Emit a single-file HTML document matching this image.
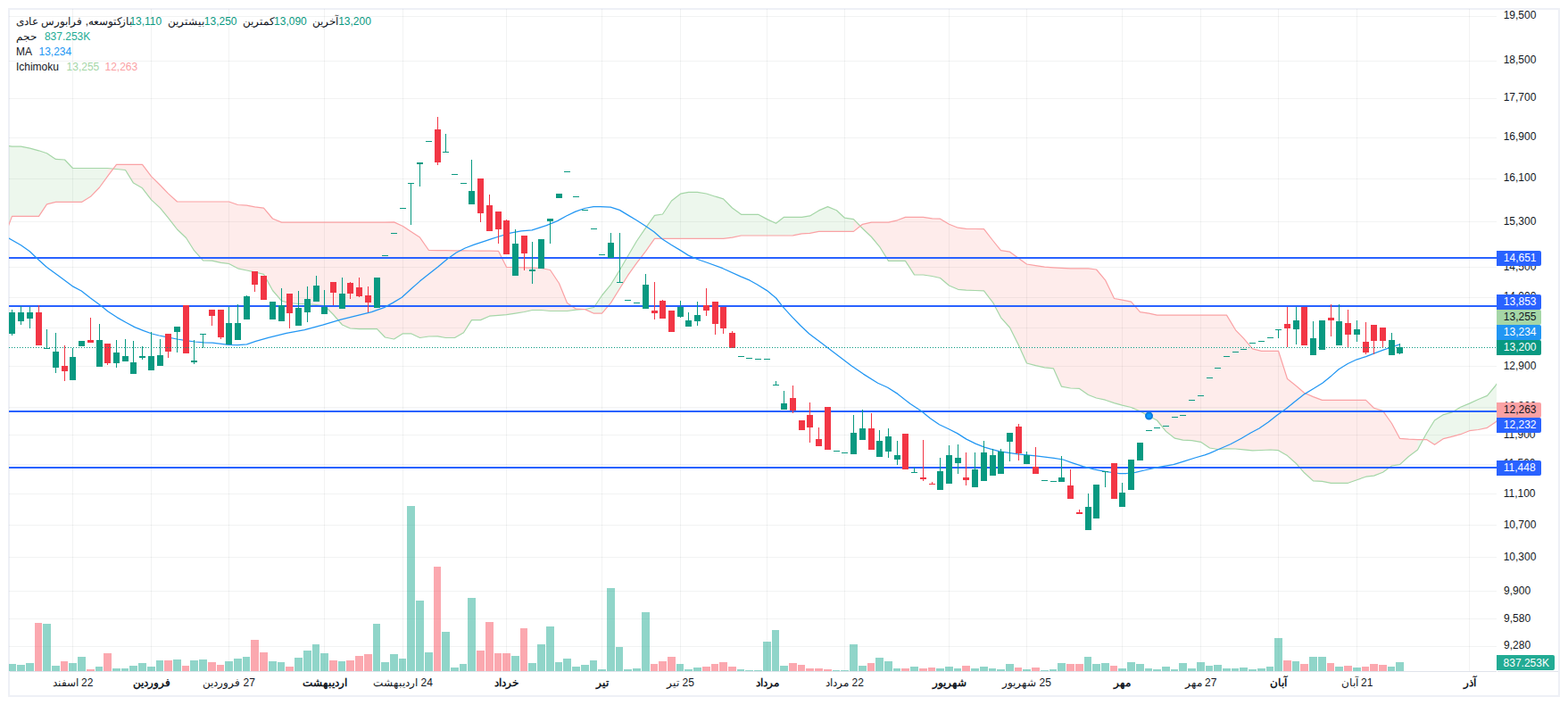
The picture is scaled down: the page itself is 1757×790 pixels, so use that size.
<!DOCTYPE html>
<html lang="fa"><head><meta charset="utf-8"><title>Chart</title>
<style>html,body{margin:0;padding:0;background:#fff;overflow:hidden}svg{display:block}text{font-family:"Liberation Sans",sans-serif;font-size:12px}</style>
</head><body>
<svg width="1757" height="790" viewBox="0 0 1757 790" role="img" aria-label="Candlestick chart with Ichimoku cloud, moving average and volume">
<defs><clipPath id="pane"><rect x="10" y="10" width="1667" height="742"/></clipPath></defs>
<rect x="0" y="0" width="1757" height="790" fill="#fff"/>
<g fill="#EEF0F6" shape-rendering="crispEdges"><rect x="9" y="9" width="1739" height="2"/><rect x="9" y="779" width="1739" height="2"/><rect x="9" y="9" width="2" height="772"/><rect x="1746" y="9" width="2" height="772"/></g>
<g fill="rgba(42,46,57,0.06)" shape-rendering="crispEdges">
<rect x="10" y="18" width="1667" height="1"/>
<rect x="10" y="68" width="1667" height="1"/>
<rect x="10" y="110" width="1667" height="1"/>
<rect x="10" y="154" width="1667" height="1"/>
<rect x="10" y="200" width="1667" height="1"/>
<rect x="10" y="248" width="1667" height="1"/>
<rect x="10" y="299" width="1667" height="1"/>
<rect x="10" y="333" width="1667" height="1"/>
<rect x="10" y="367" width="1667" height="1"/>
<rect x="10" y="410" width="1667" height="1"/>
<rect x="10" y="456" width="1667" height="1"/>
<rect x="10" y="487" width="1667" height="1"/>
<rect x="10" y="520" width="1667" height="1"/>
<rect x="10" y="553" width="1667" height="1"/>
<rect x="10" y="588" width="1667" height="1"/>
<rect x="10" y="624" width="1667" height="1"/>
<rect x="10" y="662" width="1667" height="1"/>
<rect x="10" y="693" width="1667" height="1"/>
<rect x="10" y="724" width="1667" height="1"/>
<rect x="81" y="10" width="1" height="742"/>
<rect x="169" y="10" width="1" height="742"/>
<rect x="256" y="10" width="1" height="742"/>
<rect x="363" y="10" width="1" height="742"/>
<rect x="451" y="10" width="1" height="742"/>
<rect x="567" y="10" width="1" height="742"/>
<rect x="674" y="10" width="1" height="742"/>
<rect x="762" y="10" width="1" height="742"/>
<rect x="859" y="10" width="1" height="742"/>
<rect x="946" y="10" width="1" height="742"/>
<rect x="1063" y="10" width="1" height="742"/>
<rect x="1150" y="10" width="1" height="742"/>
<rect x="1257" y="10" width="1" height="742"/>
<rect x="1345" y="10" width="1" height="742"/>
<rect x="1432" y="10" width="1" height="742"/>
<rect x="1520" y="10" width="1" height="742"/>
<rect x="1646" y="10" width="1" height="742"/>
</g>
<g fill="#E0E3EB" shape-rendering="crispEdges"><rect x="11" y="752" width="1666" height="1"/><rect x="1678" y="752" width="68" height="1"/></g>
<g clip-path="url(#pane)">
<path d="M4.5 162.5L13.5 164.2L23.5 164.2L33.5 166.2L43.5 168.8L52.5 171.7L62.5 178.4L72.5 179L81.5 188.5L91.5 188.5L101.5 188.5L111.5 188.5L120.5 188.5L120.5 197.6L111.5 210L101.5 220.3L91.5 226.4L81.5 226.4L72.5 226.4L62.5 226.4L52.5 228.8L43.5 242.4L33.5 242.4L23.5 242.4L13.5 242.4L4.5 266ZM645.5 347.1L655.5 346.5L665.5 344.5L674.5 331L684.5 318.8L694.5 302.5L703.5 287L713.5 270L723.5 255.3L733.5 241.3L742.5 240L752.5 225L762.5 217.2L771.5 215.4L781.5 215.4L791.5 217L801.5 220.2L810.5 222.8L820.5 233L830.5 240.3L839.5 240.3L849.5 240.3L859.5 245.6L869.5 250.3L878.5 243.3L888.5 243.3L898.5 243.3L907.5 241.9L917.5 235.9L927.5 231.6L937.5 235.7L946.5 244.2L956.5 245.6L956.5 259.4L946.5 259.4L937.5 259.4L927.5 259.4L917.5 259.4L907.5 261.3L898.5 261.8L888.5 263.8L878.5 264L869.5 264L859.5 264L849.5 264L839.5 264L830.5 264L820.5 266.2L810.5 267.4L801.5 267.4L791.5 267.4L781.5 267.4L771.5 267.4L762.5 267.4L752.5 267.4L742.5 267.4L733.5 267.4L723.5 281.6L713.5 294.7L703.5 308.7L694.5 323.2L684.5 339.4L674.5 351.2L665.5 351.2L655.5 346.6L645.5 346.2ZM1588.5 504L1598.5 485.5L1607.5 471L1617.5 464.6L1627.5 461.8L1636.5 456.3L1646.5 452.1L1656.5 447.5L1666.5 443.4L1675.5 432.5L1685.5 418L1685.5 464L1675.5 473.2L1666.5 479.3L1656.5 481.5L1646.5 482.7L1636.5 486.7L1627.5 489.1L1617.5 491.6L1607.5 498.3L1598.5 492.6L1588.5 492.6Z" fill="rgba(76,175,80,0.1)"/>
<path d="M120.5 188.5L130.5 189.5L140.5 190.5L149.5 205.1L159.5 210.8L169.5 223.9L179.5 233.1L188.5 244.2L198.5 257L208.5 266.5L217.5 280.7L227.5 291.8L237.5 292.2L247.5 294.4L256.5 295.5L266.5 300.8L276.5 303L285.5 304.8L295.5 307.3L305.5 325.5L315.5 337.2L324.5 339.5L334.5 340.5L344.5 340.7L354.5 341.5L363.5 342.5L373.5 352.5L383.5 364L392.5 368L402.5 368.6L412.5 368.6L422.5 368.7L431.5 378L441.5 380L451.5 373.8L460.5 373.8L470.5 378.5L480.5 377L490.5 376.9L499.5 378.5L509.5 378.5L519.5 372.8L528.5 358.6L538.5 358.6L548.5 354.2L558.5 353.4L567.5 352.6L577.5 351.1L587.5 349.5L596.5 347.5L606.5 347.5L616.5 348.5L626.5 348.5L635.5 348.5L645.5 347.1L645.5 346.2L635.5 339.5L626.5 317.5L616.5 302.5L606.5 300.5L596.5 300.1L587.5 299.8L577.5 299.5L567.5 299.3L558.5 281.3L548.5 281.2L538.5 281.1L528.5 281L519.5 280.9L509.5 280.8L499.5 280.7L490.5 280.6L480.5 280.5L470.5 266.1L460.5 259.4L451.5 253.5L441.5 248.9L431.5 249.1L422.5 249.1L412.5 249.1L402.5 249.1L392.5 249.1L383.5 249.1L373.5 249.1L363.5 249.1L354.5 249.1L344.5 249.1L334.5 249.1L324.5 249.1L315.5 249.1L305.5 245L295.5 233.2L285.5 231.8L276.5 230.2L266.5 229.5L256.5 226L247.5 226L237.5 226L227.5 226L217.5 226L208.5 226L198.5 226L188.5 216.9L179.5 207.5L169.5 197.6L159.5 184.4L149.5 184.4L140.5 184.4L130.5 184.4L120.5 197.6ZM956.5 245.6L966.5 256L976.5 265.5L985.5 276.3L995.5 292.4L1005.5 292.4L1014.5 292.4L1024.5 307.8L1034.5 308L1044.5 309.5L1053.5 311.5L1063.5 320L1073.5 324.3L1082.5 325.2L1092.5 325.5L1102.5 325.8L1112.5 338.8L1121.5 355.8L1131.5 367L1141.5 387L1150.5 407L1160.5 409.6L1170.5 411.9L1180.5 412.9L1189.5 433.2L1199.5 435L1209.5 435.4L1219.5 442.5L1228.5 446L1238.5 448.2L1248.5 451.6L1257.5 454.2L1267.5 456.5L1277.5 460.9L1287.5 466.2L1296.5 471L1306.5 483.4L1316.5 491.2L1325.5 493.2L1335.5 493.7L1345.5 495.3L1355.5 502L1364.5 503.5L1374.5 502.8L1384.5 503L1393.5 503.8L1403.5 504.8L1413.5 504.5L1423.5 504L1432.5 504.7L1442.5 510.6L1452.5 519.5L1461.5 529.8L1471.5 538.9L1481.5 539.3L1491.5 541.4L1500.5 541.4L1510.5 541.3L1520.5 537.7L1530.5 534.2L1539.5 533.1L1549.5 529.3L1559.5 522L1568.5 520.6L1578.5 511.5L1588.5 504L1588.5 492.6L1578.5 492.2L1568.5 491.3L1559.5 474.5L1549.5 460.4L1539.5 457.2L1530.5 448.4L1520.5 448.4L1510.5 448.4L1500.5 448.4L1491.5 448.4L1481.5 448.4L1471.5 444.6L1461.5 440.2L1452.5 432.5L1442.5 424.5L1432.5 393.3L1423.5 393.3L1413.5 393.3L1403.5 390.8L1393.5 379.2L1384.5 369.8L1374.5 353.1L1364.5 353.1L1355.5 353.1L1345.5 353.1L1335.5 353.1L1325.5 353.1L1316.5 353.1L1306.5 353.1L1296.5 353.1L1287.5 351.2L1277.5 349.7L1267.5 338.2L1257.5 336.2L1248.5 334.5L1238.5 313.8L1228.5 302L1219.5 300.9L1209.5 300.8L1199.5 300.8L1189.5 300.3L1180.5 299.8L1170.5 299.1L1160.5 297.6L1150.5 296L1141.5 289.6L1131.5 282.2L1121.5 280.7L1112.5 269.5L1102.5 256.7L1092.5 256.5L1082.5 256.3L1073.5 255.2L1063.5 251.2L1053.5 245.2L1044.5 244.8L1034.5 243.4L1024.5 243.4L1014.5 243.4L1005.5 246.8L995.5 249.2L985.5 249.2L976.5 249.2L966.5 251.3L956.5 259.4Z" fill="rgba(244,67,54,0.1)"/>
<polyline fill="none" stroke="#A5D6A7" stroke-width="1.2" stroke-linejoin="round" points="4.5,162.5 13.5,164.2 23.5,164.2 33.5,166.2 43.5,168.8 52.5,171.7 62.5,178.4 72.5,179 81.5,188.5 91.5,188.5 101.5,188.5 111.5,188.5 120.5,188.5 130.5,189.5 140.5,190.5 149.5,205.1 159.5,210.8 169.5,223.9 179.5,233.1 188.5,244.2 198.5,257 208.5,266.5 217.5,280.7 227.5,291.8 237.5,292.2 247.5,294.4 256.5,295.5 266.5,300.8 276.5,303 285.5,304.8 295.5,307.3 305.5,325.5 315.5,337.2 324.5,339.5 334.5,340.5 344.5,340.7 354.5,341.5 363.5,342.5 373.5,352.5 383.5,364 392.5,368 402.5,368.6 412.5,368.6 422.5,368.7 431.5,378 441.5,380 451.5,373.8 460.5,373.8 470.5,378.5 480.5,377 490.5,376.9 499.5,378.5 509.5,378.5 519.5,372.8 528.5,358.6 538.5,358.6 548.5,354.2 558.5,353.4 567.5,352.6 577.5,351.1 587.5,349.5 596.5,347.5 606.5,347.5 616.5,348.5 626.5,348.5 635.5,348.5 645.5,347.1 655.5,346.5 665.5,344.5 674.5,331 684.5,318.8 694.5,302.5 703.5,287 713.5,270 723.5,255.3 733.5,241.3 742.5,240 752.5,225 762.5,217.2 771.5,215.4 781.5,215.4 791.5,217 801.5,220.2 810.5,222.8 820.5,233 830.5,240.3 839.5,240.3 849.5,240.3 859.5,245.6 869.5,250.3 878.5,243.3 888.5,243.3 898.5,243.3 907.5,241.9 917.5,235.9 927.5,231.6 937.5,235.7 946.5,244.2 956.5,245.6 966.5,256 976.5,265.5 985.5,276.3 995.5,292.4 1005.5,292.4 1014.5,292.4 1024.5,307.8 1034.5,308 1044.5,309.5 1053.5,311.5 1063.5,320 1073.5,324.3 1082.5,325.2 1092.5,325.5 1102.5,325.8 1112.5,338.8 1121.5,355.8 1131.5,367 1141.5,387 1150.5,407 1160.5,409.6 1170.5,411.9 1180.5,412.9 1189.5,433.2 1199.5,435 1209.5,435.4 1219.5,442.5 1228.5,446 1238.5,448.2 1248.5,451.6 1257.5,454.2 1267.5,456.5 1277.5,460.9 1287.5,466.2 1296.5,471 1306.5,483.4 1316.5,491.2 1325.5,493.2 1335.5,493.7 1345.5,495.3 1355.5,502 1364.5,503.5 1374.5,502.8 1384.5,503 1393.5,503.8 1403.5,504.8 1413.5,504.5 1423.5,504 1432.5,504.7 1442.5,510.6 1452.5,519.5 1461.5,529.8 1471.5,538.9 1481.5,539.3 1491.5,541.4 1500.5,541.4 1510.5,541.3 1520.5,537.7 1530.5,534.2 1539.5,533.1 1549.5,529.3 1559.5,522 1568.5,520.6 1578.5,511.5 1588.5,504 1598.5,485.5 1607.5,471 1617.5,464.6 1627.5,461.8 1636.5,456.3 1646.5,452.1 1656.5,447.5 1666.5,443.4 1675.5,432.5 1685.5,418"/>
<polyline fill="none" stroke="#FAA1A4" stroke-width="1.2" stroke-linejoin="round" points="4.5,266 13.5,242.4 23.5,242.4 33.5,242.4 43.5,242.4 52.5,228.8 62.5,226.4 72.5,226.4 81.5,226.4 91.5,226.4 101.5,220.3 111.5,210 120.5,197.6 130.5,184.4 140.5,184.4 149.5,184.4 159.5,184.4 169.5,197.6 179.5,207.5 188.5,216.9 198.5,226 208.5,226 217.5,226 227.5,226 237.5,226 247.5,226 256.5,226 266.5,229.5 276.5,230.2 285.5,231.8 295.5,233.2 305.5,245 315.5,249.1 324.5,249.1 334.5,249.1 344.5,249.1 354.5,249.1 363.5,249.1 373.5,249.1 383.5,249.1 392.5,249.1 402.5,249.1 412.5,249.1 422.5,249.1 431.5,249.1 441.5,248.9 451.5,253.5 460.5,259.4 470.5,266.1 480.5,280.5 490.5,280.6 499.5,280.7 509.5,280.8 519.5,280.9 528.5,281 538.5,281.1 548.5,281.2 558.5,281.3 567.5,299.3 577.5,299.5 587.5,299.8 596.5,300.1 606.5,300.5 616.5,302.5 626.5,317.5 635.5,339.5 645.5,346.2 655.5,346.6 665.5,351.2 674.5,351.2 684.5,339.4 694.5,323.2 703.5,308.7 713.5,294.7 723.5,281.6 733.5,267.4 742.5,267.4 752.5,267.4 762.5,267.4 771.5,267.4 781.5,267.4 791.5,267.4 801.5,267.4 810.5,267.4 820.5,266.2 830.5,264 839.5,264 849.5,264 859.5,264 869.5,264 878.5,264 888.5,263.8 898.5,261.8 907.5,261.3 917.5,259.4 927.5,259.4 937.5,259.4 946.5,259.4 956.5,259.4 966.5,251.3 976.5,249.2 985.5,249.2 995.5,249.2 1005.5,246.8 1014.5,243.4 1024.5,243.4 1034.5,243.4 1044.5,244.8 1053.5,245.2 1063.5,251.2 1073.5,255.2 1082.5,256.3 1092.5,256.5 1102.5,256.7 1112.5,269.5 1121.5,280.7 1131.5,282.2 1141.5,289.6 1150.5,296 1160.5,297.6 1170.5,299.1 1180.5,299.8 1189.5,300.3 1199.5,300.8 1209.5,300.8 1219.5,300.9 1228.5,302 1238.5,313.8 1248.5,334.5 1257.5,336.2 1267.5,338.2 1277.5,349.7 1287.5,351.2 1296.5,353.1 1306.5,353.1 1316.5,353.1 1325.5,353.1 1335.5,353.1 1345.5,353.1 1355.5,353.1 1364.5,353.1 1374.5,353.1 1384.5,369.8 1393.5,379.2 1403.5,390.8 1413.5,393.3 1423.5,393.3 1432.5,393.3 1442.5,424.5 1452.5,432.5 1461.5,440.2 1471.5,444.6 1481.5,448.4 1491.5,448.4 1500.5,448.4 1510.5,448.4 1520.5,448.4 1530.5,448.4 1539.5,457.2 1549.5,460.4 1559.5,474.5 1568.5,491.3 1578.5,492.2 1588.5,492.6 1598.5,492.6 1607.5,498.3 1617.5,491.6 1627.5,489.1 1636.5,486.7 1646.5,482.7 1656.5,481.5 1666.5,479.3 1675.5,473.2 1685.5,464"/>
<g shape-rendering="crispEdges">
<rect x="9" y="744" width="9" height="8" fill="rgba(34,171,148,0.5)"/>
<rect x="19" y="745" width="9" height="7" fill="rgba(34,171,148,0.5)"/>
<rect x="29" y="743" width="9" height="9" fill="rgba(34,171,148,0.5)"/>
<rect x="39" y="698" width="8" height="54" fill="rgba(247,82,95,0.5)"/>
<rect x="48" y="699" width="9" height="53" fill="rgba(34,171,148,0.5)"/>
<rect x="58" y="746" width="9" height="6" fill="rgba(34,171,148,0.5)"/>
<rect x="68" y="741" width="8" height="11" fill="rgba(247,82,95,0.5)"/>
<rect x="77" y="743" width="9" height="9" fill="rgba(34,171,148,0.5)"/>
<rect x="87" y="736" width="9" height="16" fill="rgba(34,171,148,0.5)"/>
<rect x="97" y="750" width="9" height="2" fill="rgba(247,82,95,0.5)"/>
<rect x="107" y="747" width="8" height="5" fill="rgba(34,171,148,0.5)"/>
<rect x="116" y="732" width="9" height="20" fill="rgba(247,82,95,0.5)"/>
<rect x="126" y="749" width="9" height="3" fill="rgba(34,171,148,0.5)"/>
<rect x="136" y="749" width="8" height="3" fill="rgba(34,171,148,0.5)"/>
<rect x="145" y="746" width="9" height="6" fill="rgba(34,171,148,0.5)"/>
<rect x="155" y="743" width="9" height="9" fill="rgba(34,171,148,0.5)"/>
<rect x="165" y="747" width="9" height="5" fill="rgba(34,171,148,0.5)"/>
<rect x="175" y="740" width="8" height="12" fill="rgba(34,171,148,0.5)"/>
<rect x="184" y="740" width="9" height="12" fill="rgba(247,82,95,0.5)"/>
<rect x="194" y="739" width="9" height="13" fill="rgba(34,171,148,0.5)"/>
<rect x="204" y="746" width="8" height="6" fill="rgba(247,82,95,0.5)"/>
<rect x="213" y="740" width="9" height="12" fill="rgba(34,171,148,0.5)"/>
<rect x="223" y="739" width="9" height="13" fill="rgba(34,171,148,0.5)"/>
<rect x="233" y="742" width="9" height="10" fill="rgba(247,82,95,0.5)"/>
<rect x="243" y="745" width="8" height="7" fill="rgba(247,82,95,0.5)"/>
<rect x="252" y="741" width="9" height="11" fill="rgba(34,171,148,0.5)"/>
<rect x="262" y="738" width="9" height="14" fill="rgba(34,171,148,0.5)"/>
<rect x="272" y="736" width="8" height="16" fill="rgba(34,171,148,0.5)"/>
<rect x="281" y="717" width="9" height="35" fill="rgba(247,82,95,0.5)"/>
<rect x="291" y="731" width="9" height="21" fill="rgba(247,82,95,0.5)"/>
<rect x="301" y="741" width="9" height="11" fill="rgba(34,171,148,0.5)"/>
<rect x="311" y="742" width="8" height="10" fill="rgba(34,171,148,0.5)"/>
<rect x="320" y="747" width="9" height="5" fill="rgba(247,82,95,0.5)"/>
<rect x="330" y="737" width="9" height="15" fill="rgba(34,171,148,0.5)"/>
<rect x="340" y="729" width="9" height="23" fill="rgba(34,171,148,0.5)"/>
<rect x="350" y="722" width="8" height="30" fill="rgba(34,171,148,0.5)"/>
<rect x="359" y="732" width="9" height="20" fill="rgba(34,171,148,0.5)"/>
<rect x="369" y="740" width="9" height="12" fill="rgba(247,82,95,0.5)"/>
<rect x="379" y="741" width="8" height="11" fill="rgba(34,171,148,0.5)"/>
<rect x="388" y="740" width="9" height="12" fill="rgba(247,82,95,0.5)"/>
<rect x="398" y="735" width="9" height="17" fill="rgba(247,82,95,0.5)"/>
<rect x="408" y="733" width="9" height="19" fill="rgba(247,82,95,0.5)"/>
<rect x="418" y="699" width="8" height="53" fill="rgba(34,171,148,0.5)"/>
<rect x="427" y="742" width="9" height="10" fill="rgba(34,171,148,0.5)"/>
<rect x="437" y="733" width="9" height="19" fill="rgba(34,171,148,0.5)"/>
<rect x="447" y="738" width="8" height="14" fill="rgba(34,171,148,0.5)"/>
<rect x="456" y="567" width="9" height="185" fill="rgba(34,171,148,0.5)"/>
<rect x="466" y="673" width="9" height="79" fill="rgba(34,171,148,0.5)"/>
<rect x="476" y="731" width="9" height="21" fill="rgba(34,171,148,0.5)"/>
<rect x="486" y="635" width="8" height="117" fill="rgba(247,82,95,0.5)"/>
<rect x="495" y="708" width="9" height="44" fill="rgba(34,171,148,0.5)"/>
<rect x="505" y="748" width="9" height="4" fill="rgba(34,171,148,0.5)"/>
<rect x="515" y="744" width="8" height="8" fill="rgba(34,171,148,0.5)"/>
<rect x="524" y="670" width="9" height="82" fill="rgba(34,171,148,0.5)"/>
<rect x="534" y="729" width="9" height="23" fill="rgba(247,82,95,0.5)"/>
<rect x="544" y="697" width="9" height="55" fill="rgba(247,82,95,0.5)"/>
<rect x="554" y="732" width="8" height="20" fill="rgba(247,82,95,0.5)"/>
<rect x="563" y="732" width="9" height="20" fill="rgba(247,82,95,0.5)"/>
<rect x="573" y="735" width="9" height="17" fill="rgba(34,171,148,0.5)"/>
<rect x="583" y="704" width="8" height="48" fill="rgba(247,82,95,0.5)"/>
<rect x="592" y="743" width="9" height="9" fill="rgba(34,171,148,0.5)"/>
<rect x="602" y="722" width="9" height="30" fill="rgba(34,171,148,0.5)"/>
<rect x="612" y="702" width="9" height="50" fill="rgba(34,171,148,0.5)"/>
<rect x="622" y="742" width="8" height="10" fill="rgba(34,171,148,0.5)"/>
<rect x="631" y="738" width="9" height="14" fill="rgba(34,171,148,0.5)"/>
<rect x="641" y="747" width="9" height="5" fill="rgba(34,171,148,0.5)"/>
<rect x="651" y="745" width="9" height="7" fill="rgba(34,171,148,0.5)"/>
<rect x="661" y="740" width="8" height="12" fill="rgba(34,171,148,0.5)"/>
<rect x="670" y="750" width="9" height="2" fill="rgba(34,171,148,0.5)"/>
<rect x="680" y="659" width="9" height="93" fill="rgba(34,171,148,0.5)"/>
<rect x="690" y="725" width="8" height="27" fill="rgba(34,171,148,0.5)"/>
<rect x="699" y="750" width="9" height="2" fill="rgba(34,171,148,0.5)"/>
<rect x="709" y="749" width="9" height="3" fill="rgba(34,171,148,0.5)"/>
<rect x="719" y="686" width="9" height="66" fill="rgba(34,171,148,0.5)"/>
<rect x="729" y="744" width="8" height="8" fill="rgba(247,82,95,0.5)"/>
<rect x="738" y="741" width="9" height="11" fill="rgba(247,82,95,0.5)"/>
<rect x="748" y="736" width="9" height="16" fill="rgba(247,82,95,0.5)"/>
<rect x="758" y="744" width="8" height="8" fill="rgba(34,171,148,0.5)"/>
<rect x="767" y="750" width="9" height="2" fill="rgba(34,171,148,0.5)"/>
<rect x="777" y="748" width="9" height="4" fill="rgba(34,171,148,0.5)"/>
<rect x="787" y="747" width="9" height="5" fill="rgba(247,82,95,0.5)"/>
<rect x="797" y="744" width="8" height="8" fill="rgba(247,82,95,0.5)"/>
<rect x="806" y="742" width="9" height="10" fill="rgba(247,82,95,0.5)"/>
<rect x="816" y="747" width="9" height="5" fill="rgba(247,82,95,0.5)"/>
<rect x="826" y="750" width="8" height="2" fill="rgba(34,171,148,0.5)"/>
<rect x="835" y="751" width="9" height="1" fill="rgba(34,171,148,0.5)"/>
<rect x="845" y="751" width="9" height="1" fill="rgba(34,171,148,0.5)"/>
<rect x="855" y="719" width="9" height="33" fill="rgba(34,171,148,0.5)"/>
<rect x="865" y="706" width="8" height="46" fill="rgba(34,171,148,0.5)"/>
<rect x="874" y="746" width="9" height="6" fill="rgba(34,171,148,0.5)"/>
<rect x="884" y="743" width="9" height="9" fill="rgba(247,82,95,0.5)"/>
<rect x="894" y="745" width="8" height="7" fill="rgba(247,82,95,0.5)"/>
<rect x="903" y="749" width="9" height="3" fill="rgba(247,82,95,0.5)"/>
<rect x="913" y="749" width="9" height="3" fill="rgba(247,82,95,0.5)"/>
<rect x="923" y="750" width="9" height="2" fill="rgba(247,82,95,0.5)"/>
<rect x="933" y="751" width="8" height="1" fill="rgba(34,171,148,0.5)"/>
<rect x="942" y="751" width="9" height="1" fill="rgba(34,171,148,0.5)"/>
<rect x="952" y="722" width="9" height="30" fill="rgba(34,171,148,0.5)"/>
<rect x="962" y="746" width="9" height="6" fill="rgba(34,171,148,0.5)"/>
<rect x="972" y="743" width="8" height="9" fill="rgba(247,82,95,0.5)"/>
<rect x="981" y="737" width="9" height="15" fill="rgba(34,171,148,0.5)"/>
<rect x="991" y="741" width="9" height="11" fill="rgba(34,171,148,0.5)"/>
<rect x="1001" y="749" width="8" height="3" fill="rgba(34,171,148,0.5)"/>
<rect x="1010" y="749" width="9" height="3" fill="rgba(247,82,95,0.5)"/>
<rect x="1020" y="747" width="9" height="5" fill="rgba(34,171,148,0.5)"/>
<rect x="1030" y="749" width="9" height="3" fill="rgba(247,82,95,0.5)"/>
<rect x="1040" y="748" width="8" height="4" fill="rgba(247,82,95,0.5)"/>
<rect x="1049" y="749" width="9" height="3" fill="rgba(34,171,148,0.5)"/>
<rect x="1059" y="747" width="9" height="5" fill="rgba(34,171,148,0.5)"/>
<rect x="1069" y="749" width="8" height="3" fill="rgba(34,171,148,0.5)"/>
<rect x="1078" y="746" width="9" height="6" fill="rgba(247,82,95,0.5)"/>
<rect x="1088" y="749" width="9" height="3" fill="rgba(34,171,148,0.5)"/>
<rect x="1098" y="747" width="9" height="5" fill="rgba(34,171,148,0.5)"/>
<rect x="1108" y="749" width="8" height="3" fill="rgba(34,171,148,0.5)"/>
<rect x="1117" y="750" width="9" height="2" fill="rgba(34,171,148,0.5)"/>
<rect x="1127" y="744" width="9" height="8" fill="rgba(34,171,148,0.5)"/>
<rect x="1137" y="748" width="8" height="4" fill="rgba(247,82,95,0.5)"/>
<rect x="1146" y="750" width="9" height="2" fill="rgba(34,171,148,0.5)"/>
<rect x="1156" y="748" width="9" height="4" fill="rgba(247,82,95,0.5)"/>
<rect x="1166" y="751" width="9" height="1" fill="rgba(34,171,148,0.5)"/>
<rect x="1176" y="750" width="8" height="2" fill="rgba(34,171,148,0.5)"/>
<rect x="1185" y="743" width="9" height="9" fill="rgba(34,171,148,0.5)"/>
<rect x="1195" y="744" width="9" height="8" fill="rgba(247,82,95,0.5)"/>
<rect x="1205" y="744" width="9" height="8" fill="rgba(247,82,95,0.5)"/>
<rect x="1215" y="736" width="8" height="16" fill="rgba(34,171,148,0.5)"/>
<rect x="1224" y="744" width="9" height="8" fill="rgba(34,171,148,0.5)"/>
<rect x="1234" y="743" width="9" height="9" fill="rgba(34,171,148,0.5)"/>
<rect x="1244" y="746" width="8" height="6" fill="rgba(247,82,95,0.5)"/>
<rect x="1253" y="749" width="9" height="3" fill="rgba(34,171,148,0.5)"/>
<rect x="1263" y="742" width="9" height="10" fill="rgba(34,171,148,0.5)"/>
<rect x="1273" y="744" width="9" height="8" fill="rgba(34,171,148,0.5)"/>
<rect x="1283" y="749" width="8" height="3" fill="rgba(34,171,148,0.5)"/>
<rect x="1292" y="750" width="9" height="2" fill="rgba(34,171,148,0.5)"/>
<rect x="1302" y="747" width="9" height="5" fill="rgba(34,171,148,0.5)"/>
<rect x="1312" y="750" width="8" height="2" fill="rgba(34,171,148,0.5)"/>
<rect x="1321" y="743" width="9" height="9" fill="rgba(34,171,148,0.5)"/>
<rect x="1331" y="749" width="9" height="3" fill="rgba(34,171,148,0.5)"/>
<rect x="1341" y="742" width="9" height="10" fill="rgba(34,171,148,0.5)"/>
<rect x="1351" y="746" width="8" height="6" fill="rgba(34,171,148,0.5)"/>
<rect x="1360" y="745" width="9" height="7" fill="rgba(34,171,148,0.5)"/>
<rect x="1370" y="749" width="9" height="3" fill="rgba(34,171,148,0.5)"/>
<rect x="1380" y="749" width="8" height="3" fill="rgba(34,171,148,0.5)"/>
<rect x="1389" y="748" width="9" height="4" fill="rgba(34,171,148,0.5)"/>
<rect x="1399" y="750" width="9" height="2" fill="rgba(34,171,148,0.5)"/>
<rect x="1409" y="749" width="9" height="3" fill="rgba(34,171,148,0.5)"/>
<rect x="1419" y="747" width="8" height="5" fill="rgba(34,171,148,0.5)"/>
<rect x="1428" y="715" width="9" height="37" fill="rgba(34,171,148,0.5)"/>
<rect x="1438" y="740" width="9" height="12" fill="rgba(247,82,95,0.5)"/>
<rect x="1448" y="741" width="8" height="11" fill="rgba(34,171,148,0.5)"/>
<rect x="1457" y="744" width="9" height="8" fill="rgba(247,82,95,0.5)"/>
<rect x="1467" y="736" width="9" height="16" fill="rgba(34,171,148,0.5)"/>
<rect x="1477" y="736" width="9" height="16" fill="rgba(34,171,148,0.5)"/>
<rect x="1487" y="743" width="8" height="9" fill="rgba(247,82,95,0.5)"/>
<rect x="1496" y="747" width="9" height="5" fill="rgba(34,171,148,0.5)"/>
<rect x="1506" y="746" width="9" height="6" fill="rgba(247,82,95,0.5)"/>
<rect x="1516" y="748" width="9" height="4" fill="rgba(34,171,148,0.5)"/>
<rect x="1526" y="747" width="8" height="5" fill="rgba(247,82,95,0.5)"/>
<rect x="1535" y="744" width="9" height="8" fill="rgba(247,82,95,0.5)"/>
<rect x="1545" y="745" width="9" height="7" fill="rgba(247,82,95,0.5)"/>
<rect x="1555" y="747" width="8" height="5" fill="rgba(34,171,148,0.5)"/>
<rect x="1564" y="742" width="9" height="10" fill="rgba(34,171,148,0.5)"/>
</g>
<g fill="#2962FF" shape-rendering="crispEdges">
<rect x="10" y="288" width="1667" height="2"/>
<rect x="10" y="342" width="1667" height="2"/>
<rect x="10" y="460" width="1667" height="2"/>
<rect x="10" y="523" width="1667" height="2"/>
</g>
<polyline fill="none" stroke="#2196F3" stroke-width="1.25" stroke-linejoin="round" stroke-linecap="round" points="10,267 23.5,274.8 33.4,281.7 42.5,290.5 52.5,299.5 66.9,310.1 81,320.6 91.2,326 101.4,334 113,342.5 121,349 131,355.6 141,361.3 151,366.6 161,370.7 170.3,374 178.3,376 186.4,377.6 198.3,380 208.4,381.6 218.5,383 228.5,383.8 238,384.2 250,385.6 256.4,386.3 266.5,386.7 276.5,385.9 286.6,382.4 300.8,378.4 321,373.3 341.3,369.7 361.6,364.2 381.8,358.1 402.1,353.1 416.3,349.6 430.4,344.6 440.1,339.4 450.3,333.3 460.4,324 470.5,315.1 480.6,307 490.8,298.9 500.9,290.4 511,283.3 521.2,278 531.3,274.2 543.5,270.1 551.6,267.3 557.6,265.5 571.8,261.2 584,258.8 596.1,257.8 612.3,252.7 624.5,247.6 634.6,242 644.8,237.1 654.9,233.5 665,231.6 673.1,231.6 684.2,232.2 694.3,235.4 703.4,240.9 713.6,247 723.7,253.5 732.8,259.7 741.9,267.7 752,274.3 762.2,280.4 771.3,286.1 781.4,290.5 791.6,294 809.8,300.7 830,309.9 840.2,314.2 848.3,318.8 859.4,325.6 869.6,334 876.6,343.2 887.8,355.3 896.9,364.8 907,374.2 920,384.1 954.2,410 967.4,419.1 983.6,429.2 994.7,434.3 1005.9,441.4 1020,452.5 1032.2,460.6 1042.3,468.8 1052.5,475.8 1062.6,480.5 1072.7,485.6 1082.9,492.1 1093,497.1 1103.1,501.2 1110,503.2 1120.3,505.8 1140.5,508.9 1160.8,510.9 1181,513.3 1191.2,515 1201.3,518.6 1213.5,522.7 1225.6,525.9 1239.8,528.7 1254,530.5 1262.1,530.5 1272.2,529.3 1282.3,527 1298.5,523.4 1314.8,520.6 1326.9,516.8 1339.1,513 1350,509.9 1355.5,507.9 1366.6,503 1378.8,497.8 1391,491.3 1401.1,485.2 1411,480 1421.2,473 1431.3,464.9 1441.4,457.8 1451.6,449.5 1461.7,441.6 1471.8,435.5 1481.9,429.2 1492.1,420.9 1500.2,413.7 1510.3,407.5 1520.4,402.8 1530.6,399.6 1540.7,395.6 1550.8,391.9 1561,388.5 1568.5,385.8"/>
<circle cx="1287.5" cy="466" r="3.5" fill="#0A9BFF" stroke="#0C7BDC" stroke-width="2"/>
<g shape-rendering="crispEdges">
<rect x="13" y="347" width="1" height="29" fill="#089981"/>
<rect x="10" y="350" width="7" height="24" fill="#089981"/>
<rect x="23" y="343" width="1" height="21" fill="#089981"/>
<rect x="20" y="350" width="7" height="10" fill="#089981"/>
<rect x="33" y="344" width="1" height="24" fill="#089981"/>
<rect x="30" y="350" width="7" height="7" fill="#089981"/>
<rect x="43" y="342" width="1" height="45" fill="#F23645"/>
<rect x="40" y="350" width="7" height="37" fill="#F23645"/>
<rect x="52" y="369" width="1" height="22" fill="#089981"/>
<rect x="49" y="390" width="7" height="1" fill="#089981"/>
<rect x="62" y="373" width="1" height="45" fill="#089981"/>
<rect x="59" y="394" width="7" height="18" fill="#089981"/>
<rect x="72" y="387" width="1" height="40" fill="#F23645"/>
<rect x="69" y="410" width="7" height="6" fill="#F23645"/>
<rect x="81" y="390" width="1" height="36" fill="#089981"/>
<rect x="78" y="400" width="7" height="26" fill="#089981"/>
<rect x="88" y="382" width="7" height="6" fill="#089981"/>
<rect x="101" y="356" width="1" height="28" fill="#F23645"/>
<rect x="98" y="381" width="7" height="3" fill="#F23645"/>
<rect x="111" y="363" width="1" height="48" fill="#089981"/>
<rect x="108" y="381" width="7" height="30" fill="#089981"/>
<rect x="120" y="385" width="1" height="24" fill="#F23645"/>
<rect x="117" y="385" width="7" height="22" fill="#F23645"/>
<rect x="130" y="381" width="1" height="31" fill="#089981"/>
<rect x="127" y="395" width="7" height="12" fill="#089981"/>
<rect x="140" y="380" width="1" height="25" fill="#089981"/>
<rect x="137" y="399" width="7" height="6" fill="#089981"/>
<rect x="149" y="382" width="1" height="37" fill="#089981"/>
<rect x="146" y="406" width="7" height="13" fill="#089981"/>
<rect x="159" y="388" width="1" height="15" fill="#089981"/>
<rect x="156" y="399" width="7" height="2" fill="#089981"/>
<rect x="169" y="372" width="1" height="43" fill="#089981"/>
<rect x="166" y="399" width="7" height="16" fill="#089981"/>
<rect x="179" y="380" width="1" height="30" fill="#089981"/>
<rect x="176" y="398" width="7" height="12" fill="#089981"/>
<rect x="188" y="374" width="1" height="27" fill="#F23645"/>
<rect x="185" y="374" width="7" height="20" fill="#F23645"/>
<rect x="198" y="366" width="1" height="29" fill="#089981"/>
<rect x="195" y="366" width="7" height="6" fill="#089981"/>
<rect x="205" y="342" width="7" height="54" fill="#F23645"/>
<rect x="217" y="381" width="1" height="27" fill="#089981"/>
<rect x="214" y="404" width="7" height="2" fill="#089981"/>
<rect x="227" y="374" width="1" height="16" fill="#089981"/>
<rect x="224" y="374" width="7" height="1" fill="#089981"/>
<rect x="237" y="347" width="1" height="18" fill="#F23645"/>
<rect x="234" y="347" width="7" height="7" fill="#F23645"/>
<rect x="247" y="347" width="1" height="33" fill="#F23645"/>
<rect x="244" y="347" width="7" height="31" fill="#F23645"/>
<rect x="256" y="344" width="1" height="42" fill="#089981"/>
<rect x="253" y="362" width="7" height="24" fill="#089981"/>
<rect x="266" y="341" width="1" height="40" fill="#089981"/>
<rect x="263" y="362" width="7" height="19" fill="#089981"/>
<rect x="276" y="331" width="1" height="27" fill="#089981"/>
<rect x="273" y="332" width="7" height="26" fill="#089981"/>
<rect x="285" y="304" width="1" height="23" fill="#F23645"/>
<rect x="282" y="304" width="7" height="15" fill="#F23645"/>
<rect x="292" y="309" width="7" height="27" fill="#F23645"/>
<rect x="302" y="338" width="7" height="20" fill="#089981"/>
<rect x="315" y="323" width="1" height="37" fill="#089981"/>
<rect x="312" y="342" width="7" height="18" fill="#089981"/>
<rect x="324" y="329" width="1" height="39" fill="#F23645"/>
<rect x="321" y="329" width="7" height="22" fill="#F23645"/>
<rect x="334" y="326" width="1" height="39" fill="#089981"/>
<rect x="331" y="345" width="7" height="20" fill="#089981"/>
<rect x="344" y="321" width="1" height="40" fill="#089981"/>
<rect x="341" y="335" width="7" height="15" fill="#089981"/>
<rect x="354" y="309" width="1" height="29" fill="#089981"/>
<rect x="351" y="320" width="7" height="18" fill="#089981"/>
<rect x="363" y="325" width="1" height="27" fill="#089981"/>
<rect x="360" y="344" width="7" height="8" fill="#089981"/>
<rect x="373" y="316" width="1" height="26" fill="#F23645"/>
<rect x="370" y="316" width="7" height="12" fill="#F23645"/>
<rect x="383" y="311" width="1" height="35" fill="#089981"/>
<rect x="380" y="329" width="7" height="17" fill="#089981"/>
<rect x="392" y="316" width="1" height="19" fill="#F23645"/>
<rect x="389" y="317" width="7" height="12" fill="#F23645"/>
<rect x="402" y="311" width="1" height="22" fill="#F23645"/>
<rect x="399" y="322" width="7" height="10" fill="#F23645"/>
<rect x="412" y="321" width="1" height="29" fill="#F23645"/>
<rect x="409" y="331" width="7" height="8" fill="#F23645"/>
<rect x="419" y="311" width="7" height="34" fill="#089981"/>
<rect x="428" y="286" width="7" height="1" fill="#089981"/>
<rect x="438" y="261" width="7" height="1" fill="#089981"/>
<rect x="448" y="233" width="7" height="1" fill="#089981"/>
<rect x="460" y="205" width="1" height="47" fill="#089981"/>
<rect x="457" y="205" width="7" height="1" fill="#089981"/>
<rect x="470" y="182" width="1" height="27" fill="#089981"/>
<rect x="467" y="182" width="7" height="2" fill="#089981"/>
<rect x="477" y="158" width="7" height="1" fill="#089981"/>
<rect x="490" y="131" width="1" height="54" fill="#F23645"/>
<rect x="487" y="145" width="7" height="37" fill="#F23645"/>
<rect x="499" y="150" width="1" height="21" fill="#089981"/>
<rect x="496" y="170" width="7" height="1" fill="#089981"/>
<rect x="506" y="195" width="7" height="1" fill="#089981"/>
<rect x="516" y="205" width="7" height="1" fill="#089981"/>
<rect x="528" y="179" width="1" height="50" fill="#089981"/>
<rect x="525" y="214" width="7" height="15" fill="#089981"/>
<rect x="538" y="200" width="1" height="49" fill="#F23645"/>
<rect x="535" y="200" width="7" height="39" fill="#F23645"/>
<rect x="548" y="218" width="1" height="41" fill="#F23645"/>
<rect x="545" y="230" width="7" height="29" fill="#F23645"/>
<rect x="558" y="237" width="1" height="36" fill="#F23645"/>
<rect x="555" y="237" width="7" height="20" fill="#F23645"/>
<rect x="567" y="246" width="1" height="39" fill="#F23645"/>
<rect x="564" y="247" width="7" height="38" fill="#F23645"/>
<rect x="577" y="257" width="1" height="52" fill="#089981"/>
<rect x="574" y="273" width="7" height="36" fill="#089981"/>
<rect x="587" y="264" width="1" height="39" fill="#F23645"/>
<rect x="584" y="264" width="7" height="20" fill="#F23645"/>
<rect x="596" y="271" width="1" height="47" fill="#089981"/>
<rect x="593" y="302" width="7" height="2" fill="#089981"/>
<rect x="603" y="268" width="7" height="33" fill="#089981"/>
<rect x="616" y="245" width="1" height="28" fill="#089981"/>
<rect x="613" y="245" width="7" height="3" fill="#089981"/>
<rect x="623" y="217" width="7" height="5" fill="#089981"/>
<rect x="632" y="192" width="7" height="1" fill="#089981"/>
<rect x="642" y="220" width="7" height="1" fill="#089981"/>
<rect x="652" y="235" width="7" height="1" fill="#089981"/>
<rect x="662" y="256" width="7" height="1" fill="#089981"/>
<rect x="671" y="285" width="7" height="1" fill="#089981"/>
<rect x="684" y="261" width="1" height="28" fill="#089981"/>
<rect x="681" y="272" width="7" height="17" fill="#089981"/>
<rect x="694" y="261" width="1" height="56" fill="#089981"/>
<rect x="691" y="316" width="7" height="1" fill="#089981"/>
<rect x="700" y="336" width="7" height="1" fill="#089981"/>
<rect x="710" y="339" width="7" height="1" fill="#089981"/>
<rect x="723" y="307" width="1" height="39" fill="#089981"/>
<rect x="720" y="319" width="7" height="27" fill="#089981"/>
<rect x="733" y="316" width="1" height="42" fill="#F23645"/>
<rect x="730" y="348" width="7" height="3" fill="#F23645"/>
<rect x="742" y="336" width="1" height="21" fill="#F23645"/>
<rect x="739" y="337" width="7" height="20" fill="#F23645"/>
<rect x="749" y="348" width="7" height="24" fill="#F23645"/>
<rect x="762" y="337" width="1" height="19" fill="#089981"/>
<rect x="759" y="344" width="7" height="11" fill="#089981"/>
<rect x="771" y="350" width="1" height="16" fill="#089981"/>
<rect x="768" y="359" width="7" height="7" fill="#089981"/>
<rect x="781" y="338" width="1" height="27" fill="#089981"/>
<rect x="778" y="353" width="7" height="7" fill="#089981"/>
<rect x="791" y="323" width="1" height="31" fill="#F23645"/>
<rect x="788" y="342" width="7" height="6" fill="#F23645"/>
<rect x="801" y="338" width="1" height="37" fill="#F23645"/>
<rect x="798" y="338" width="7" height="25" fill="#F23645"/>
<rect x="810" y="344" width="1" height="30" fill="#F23645"/>
<rect x="807" y="344" width="7" height="24" fill="#F23645"/>
<rect x="820" y="371" width="1" height="19" fill="#F23645"/>
<rect x="817" y="373" width="7" height="17" fill="#F23645"/>
<rect x="827" y="399" width="7" height="1" fill="#089981"/>
<rect x="836" y="401" width="7" height="1" fill="#089981"/>
<rect x="846" y="402" width="7" height="1" fill="#089981"/>
<rect x="856" y="402" width="7" height="1" fill="#089981"/>
<rect x="869" y="427" width="1" height="5" fill="#089981"/>
<rect x="866" y="431" width="7" height="1" fill="#089981"/>
<rect x="878" y="438" width="1" height="21" fill="#089981"/>
<rect x="875" y="452" width="7" height="7" fill="#089981"/>
<rect x="888" y="432" width="1" height="31" fill="#F23645"/>
<rect x="885" y="446" width="7" height="14" fill="#F23645"/>
<rect x="895" y="471" width="7" height="11" fill="#F23645"/>
<rect x="907" y="451" width="1" height="45" fill="#F23645"/>
<rect x="904" y="465" width="7" height="14" fill="#F23645"/>
<rect x="917" y="479" width="1" height="21" fill="#F23645"/>
<rect x="914" y="492" width="7" height="8" fill="#F23645"/>
<rect x="924" y="456" width="7" height="48" fill="#F23645"/>
<rect x="934" y="505" width="7" height="1" fill="#089981"/>
<rect x="943" y="507" width="7" height="1" fill="#089981"/>
<rect x="956" y="465" width="1" height="44" fill="#089981"/>
<rect x="953" y="485" width="7" height="24" fill="#089981"/>
<rect x="966" y="459" width="1" height="34" fill="#089981"/>
<rect x="963" y="480" width="7" height="13" fill="#089981"/>
<rect x="976" y="463" width="1" height="41" fill="#F23645"/>
<rect x="973" y="480" width="7" height="24" fill="#F23645"/>
<rect x="985" y="482" width="1" height="30" fill="#089981"/>
<rect x="982" y="494" width="7" height="18" fill="#089981"/>
<rect x="995" y="480" width="1" height="33" fill="#089981"/>
<rect x="992" y="489" width="7" height="17" fill="#089981"/>
<rect x="1005" y="494" width="1" height="27" fill="#089981"/>
<rect x="1002" y="510" width="7" height="5" fill="#089981"/>
<rect x="1011" y="486" width="7" height="40" fill="#F23645"/>
<rect x="1024" y="524" width="1" height="6" fill="#089981"/>
<rect x="1021" y="529" width="7" height="1" fill="#089981"/>
<rect x="1034" y="493" width="1" height="46" fill="#F23645"/>
<rect x="1031" y="535" width="7" height="2" fill="#F23645"/>
<rect x="1044" y="540" width="1" height="3" fill="#F23645"/>
<rect x="1041" y="542" width="7" height="1" fill="#F23645"/>
<rect x="1053" y="513" width="1" height="36" fill="#089981"/>
<rect x="1050" y="528" width="7" height="21" fill="#089981"/>
<rect x="1063" y="499" width="1" height="43" fill="#089981"/>
<rect x="1060" y="510" width="7" height="32" fill="#089981"/>
<rect x="1073" y="498" width="1" height="33" fill="#089981"/>
<rect x="1070" y="513" width="7" height="6" fill="#089981"/>
<rect x="1082" y="507" width="1" height="37" fill="#F23645"/>
<rect x="1079" y="535" width="7" height="3" fill="#F23645"/>
<rect x="1092" y="507" width="1" height="39" fill="#089981"/>
<rect x="1089" y="526" width="7" height="20" fill="#089981"/>
<rect x="1102" y="494" width="1" height="45" fill="#089981"/>
<rect x="1099" y="507" width="7" height="32" fill="#089981"/>
<rect x="1112" y="503" width="1" height="30" fill="#089981"/>
<rect x="1109" y="510" width="7" height="23" fill="#089981"/>
<rect x="1121" y="503" width="1" height="28" fill="#089981"/>
<rect x="1118" y="506" width="7" height="25" fill="#089981"/>
<rect x="1131" y="485" width="1" height="32" fill="#089981"/>
<rect x="1128" y="485" width="7" height="10" fill="#089981"/>
<rect x="1141" y="475" width="1" height="41" fill="#F23645"/>
<rect x="1138" y="478" width="7" height="30" fill="#F23645"/>
<rect x="1150" y="506" width="1" height="14" fill="#089981"/>
<rect x="1147" y="510" width="7" height="10" fill="#089981"/>
<rect x="1160" y="501" width="1" height="30" fill="#F23645"/>
<rect x="1157" y="523" width="7" height="8" fill="#F23645"/>
<rect x="1167" y="538" width="7" height="1" fill="#089981"/>
<rect x="1177" y="539" width="7" height="1" fill="#089981"/>
<rect x="1189" y="511" width="1" height="29" fill="#089981"/>
<rect x="1186" y="535" width="7" height="5" fill="#089981"/>
<rect x="1199" y="526" width="1" height="33" fill="#F23645"/>
<rect x="1196" y="544" width="7" height="15" fill="#F23645"/>
<rect x="1209" y="571" width="1" height="5" fill="#F23645"/>
<rect x="1206" y="574" width="7" height="2" fill="#F23645"/>
<rect x="1219" y="553" width="1" height="41" fill="#089981"/>
<rect x="1216" y="568" width="7" height="26" fill="#089981"/>
<rect x="1225" y="543" width="7" height="38" fill="#089981"/>
<rect x="1238" y="528" width="1" height="18" fill="#089981"/>
<rect x="1235" y="528" width="7" height="1" fill="#089981"/>
<rect x="1245" y="519" width="7" height="40" fill="#F23645"/>
<rect x="1257" y="541" width="1" height="27" fill="#089981"/>
<rect x="1254" y="552" width="7" height="16" fill="#089981"/>
<rect x="1264" y="515" width="7" height="34" fill="#089981"/>
<rect x="1274" y="496" width="7" height="20" fill="#089981"/>
<rect x="1284" y="482" width="7" height="1" fill="#089981"/>
<rect x="1293" y="479" width="7" height="1" fill="#089981"/>
<rect x="1303" y="477" width="7" height="1" fill="#089981"/>
<rect x="1313" y="467" width="7" height="1" fill="#089981"/>
<rect x="1322" y="465" width="7" height="1" fill="#089981"/>
<rect x="1332" y="448" width="7" height="1" fill="#089981"/>
<rect x="1342" y="443" width="7" height="1" fill="#089981"/>
<rect x="1352" y="423" width="7" height="1" fill="#089981"/>
<rect x="1361" y="412" width="7" height="1" fill="#089981"/>
<rect x="1371" y="399" width="7" height="1" fill="#089981"/>
<rect x="1381" y="394" width="7" height="1" fill="#089981"/>
<rect x="1390" y="391" width="7" height="1" fill="#089981"/>
<rect x="1400" y="384" width="7" height="1" fill="#089981"/>
<rect x="1410" y="382" width="7" height="1" fill="#089981"/>
<rect x="1420" y="378" width="7" height="1" fill="#089981"/>
<rect x="1432" y="369" width="1" height="10" fill="#089981"/>
<rect x="1429" y="369" width="7" height="1" fill="#089981"/>
<rect x="1442" y="344" width="1" height="45" fill="#F23645"/>
<rect x="1439" y="363" width="7" height="5" fill="#F23645"/>
<rect x="1452" y="344" width="1" height="42" fill="#089981"/>
<rect x="1449" y="359" width="7" height="10" fill="#089981"/>
<rect x="1458" y="344" width="7" height="43" fill="#F23645"/>
<rect x="1471" y="360" width="1" height="38" fill="#089981"/>
<rect x="1468" y="379" width="7" height="19" fill="#089981"/>
<rect x="1478" y="359" width="7" height="33" fill="#089981"/>
<rect x="1491" y="341" width="1" height="36" fill="#F23645"/>
<rect x="1488" y="356" width="7" height="3" fill="#F23645"/>
<rect x="1500" y="341" width="1" height="46" fill="#089981"/>
<rect x="1497" y="360" width="7" height="27" fill="#089981"/>
<rect x="1510" y="347" width="1" height="43" fill="#F23645"/>
<rect x="1507" y="362" width="7" height="13" fill="#F23645"/>
<rect x="1520" y="359" width="1" height="24" fill="#089981"/>
<rect x="1517" y="369" width="7" height="6" fill="#089981"/>
<rect x="1530" y="361" width="1" height="36" fill="#F23645"/>
<rect x="1527" y="383" width="7" height="12" fill="#F23645"/>
<rect x="1539" y="364" width="1" height="33" fill="#F23645"/>
<rect x="1536" y="364" width="7" height="18" fill="#F23645"/>
<rect x="1549" y="367" width="1" height="23" fill="#F23645"/>
<rect x="1546" y="367" width="7" height="15" fill="#F23645"/>
<rect x="1559" y="373" width="1" height="25" fill="#089981"/>
<rect x="1556" y="381" width="7" height="17" fill="#089981"/>
<rect x="1568" y="385" width="1" height="12" fill="#089981"/>
<rect x="1565" y="389" width="7" height="7" fill="#089981"/>
</g>
<line x1="10" y1="389.5" x2="1677" y2="389.5" stroke="#089981" stroke-width="1" stroke-dasharray="1 2" shape-rendering="crispEdges"/>
</g>
<g fill="#131722">
<text x="1684.7" y="21">19,500</text>
<text x="1684.7" y="71">18,500</text>
<text x="1684.7" y="113">17,700</text>
<text x="1684.7" y="157">16,900</text>
<text x="1684.7" y="203">16,100</text>
<text x="1684.7" y="252">15,300</text>
<text x="1684.7" y="303">14,500</text>
<text x="1684.7" y="336">14,000</text>
<text x="1684.7" y="371">13,500</text>
<text x="1684.7" y="414">12,900</text>
<text x="1684.7" y="459">12,300</text>
<text x="1684.7" y="491">11,900</text>
<text x="1684.7" y="523">11,500</text>
<text x="1684.7" y="557">11,100</text>
<text x="1684.7" y="592">10,700</text>
<text x="1684.7" y="628">10,300</text>
<text x="1685.1" y="666">9,900</text>
<text x="1685.1" y="697">9,580</text>
<text x="1685.1" y="727">9,280</text>
</g>
<path d="M1677 281H1725Q1727 281 1727 283V296Q1727 298 1725 298H1677Z" fill="#2962FF"/>
<text x="1684.8" y="293" fill="#fff">14,651</text>
<path d="M1677 330H1725Q1727 330 1727 332V345Q1727 347 1725 347H1677Z" fill="#2962FF"/>
<text x="1684.8" y="342" fill="#fff">13,853</text>
<path d="M1677 347H1725Q1727 347 1727 349V362Q1727 364 1725 364H1677Z" fill="#A5D6A7"/>
<text x="1684.8" y="359" fill="#131722">13,255</text>
<path d="M1677 364H1725Q1727 364 1727 366V379Q1727 381 1725 381H1677Z" fill="#2196F3"/>
<text x="1684.8" y="376" fill="#fff">13,234</text>
<path d="M1677 381H1725Q1727 381 1727 383V396Q1727 398 1725 398H1677Z" fill="#089981"/>
<text x="1684.8" y="393" fill="#fff">13,200</text>
<path d="M1677 451H1725Q1727 451 1727 453V466Q1727 468 1725 468H1677Z" fill="#FAA1A4"/>
<text x="1684.8" y="463" fill="#131722">12,263</text>
<path d="M1677 468H1725Q1727 468 1727 470V483Q1727 485 1725 485H1677Z" fill="#2962FF"/>
<text x="1684.8" y="480" fill="#fff">12,232</text>
<path d="M1677 516H1725Q1727 516 1727 518V531Q1727 533 1725 533H1677Z" fill="#2962FF"/>
<text x="1684.8" y="528" fill="#fff">11,448</text>
<path d="M1677 734H1740Q1742 734 1742 736V749Q1742 751 1740 751H1677Z" fill="#22AB94"/>
<text x="1684.6" y="747" fill="#fff">837.253K</text>
<g fill="#131722" text-anchor="middle" direction="rtl">
<text x="81.5" y="768.5">22 اسفند</text>
<text x="169.5" y="768.5" font-weight="bold">فروردین</text>
<text x="256.5" y="768.5">27 فروردین</text>
<text x="363.5" y="768.5" font-weight="bold">اردیبهشت</text>
<text x="451.5" y="768.5">24 اردیبهشت</text>
<text x="567.5" y="768.5" font-weight="bold">خرداد</text>
<text x="674.5" y="768.5" font-weight="bold">تیر</text>
<text x="762.5" y="768.5">25 تیر</text>
<text x="859.5" y="768.5" font-weight="bold">مرداد</text>
<text x="946.5" y="768.5">22 مرداد</text>
<text x="1063.5" y="768.5" font-weight="bold">شهریور</text>
<text x="1150.5" y="768.5">25 شهریور</text>
<text x="1257.5" y="768.5" font-weight="bold">مهر</text>
<text x="1345.5" y="768.5">27 مهر</text>
<text x="1432.5" y="768.5" font-weight="bold">آبان</text>
<text x="1520.5" y="768.5">21 آبان</text>
<text x="1646.5" y="768.5" font-weight="bold">آذر</text>
</g>
<text x="18" y="28" fill="#131722">کتوسعه, فرابورس عادی</text>
<text x="134.7" y="28" fill="#131722">باز</text>
<text x="145.4" y="28" fill="#089981">13,110</text>
<text x="188.4" y="28" fill="#131722">بیشترین</text>
<text x="228.8" y="28" fill="#089981">13,250</text>
<text x="272.3" y="28" fill="#131722">کمترین</text>
<text x="307.1" y="28" fill="#089981">13,090</text>
<text x="350" y="28" fill="#131722">آخرین</text>
<text x="379.2" y="28" fill="#089981">13,200</text>
<text x="18" y="45" fill="#131722">حجم</text>
<text x="49.9" y="45" fill="#22AB94">837.253K</text>
<text x="18" y="62" fill="#131722">MA</text>
<text x="43.5" y="62" fill="#2196F3">13,234</text>
<text x="17.9" y="79" fill="#131722">Ichimoku</text>
<text x="74.6" y="79" fill="#A5D6A7">13,255</text>
<text x="117.5" y="79" fill="#FAA1A4">12,263</text>
</svg></body></html>
